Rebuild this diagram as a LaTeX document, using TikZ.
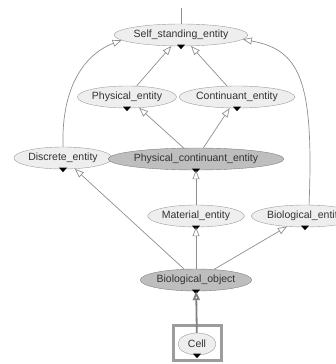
\documentclass[tikz,border=0pt]{standalone}
\usepackage{fontspec}
\setmainfont{Liberation Sans}
\usetikzlibrary{shapes.geometric, arrows.meta}
\definecolor{classfill}{HTML}{EEEEEE}
\definecolor{classline}{HTML}{9C9C9C}
\definecolor{pathfill}{HTML}{BEBEBE}
\definecolor{edgegray}{HTML}{8E8E8E}
\definecolor{labelgray}{HTML}{333333}
\tikzset{
class/.style={ellipse, draw=classline, fill=classfill, inner sep=0pt, minimum height=22pt, text=labelgray, font=\fontsize{10.5}{12}\selectfont}, % an ordinary class
onpath/.style={class, fill=pathfill, draw=gray}, % classes on the path of the selected one
isa/.style={draw=edgegray, line width=0.7pt, -{Triangle[open, length=9pt, width=7pt]}}, % subclass edge
}

\begin{document}
\begin{tikzpicture}[x=1pt, y=-1pt]
\useasboundingbox (0,0) rectangle (336,364);

\coordinate (top) at (181, 8);
\node[class, minimum width=116pt] at (181, 35) (self) {Self\_standing\_entity};
\node[class, minimum width=89pt] at (127, 97) (phys) {Physical\_entity};
\node[class, minimum width=104pt] at (237, 97) (cont) {Continuant\_entity};
\node[class, minimum width=86pt] at (63, 158) (disc) {Discrete\_entity};
\node[onpath, minimum width=143pt] at (196, 159) (physcont) {Physical\_continuant\_entity};
\node[class, minimum width=91pt] at (196, 216) (mat) {Material\_entity};
\node[class, minimum width=100pt] at (305, 216) (bio) {Biological\_entity};
\node[onpath, minimum width=96pt] at (196, 280) (bioobj) {Biological\_object};
\node[class, minimum width=38pt] at (197, 344) (cell) {Cell};
\node[draw=classline, line width=3pt, minimum width=48pt, minimum height=35pt] at (197.5, 343) (cellbox) {};

% expand markers
\foreach \n in {self, phys, cont, disc, physcont, mat, bio, bioobj, cell}
  \fill ([shift={(-4pt,1.5pt)}]\n.south) -- ++(8pt,0pt) -- ++(-4pt,-4.5pt) -- cycle;

\draw[edgegray, line width=0.7pt] (top) -- (self);
\draw (phys) edge[isa] (self);
\draw (cont) edge[isa] (self);
\draw[isa] (disc.north) .. controls (61, 80) and (90, 52) .. (self.185);
\draw[isa] (bio.70) .. controls (314, 80) and (300, 50) .. (self.-4);
\draw (physcont) edge[isa] (phys);
\draw (physcont) edge[isa] (cont);
\draw (mat) edge[isa] (physcont);
\draw (bioobj) edge[isa] (disc);
\draw (bioobj) edge[isa] (mat);
\draw (bioobj) edge[isa] (bio);
\draw (cell) edge[isa, draw=gray, line width=1.8pt] (bioobj);

\end{tikzpicture}
\end{document}
